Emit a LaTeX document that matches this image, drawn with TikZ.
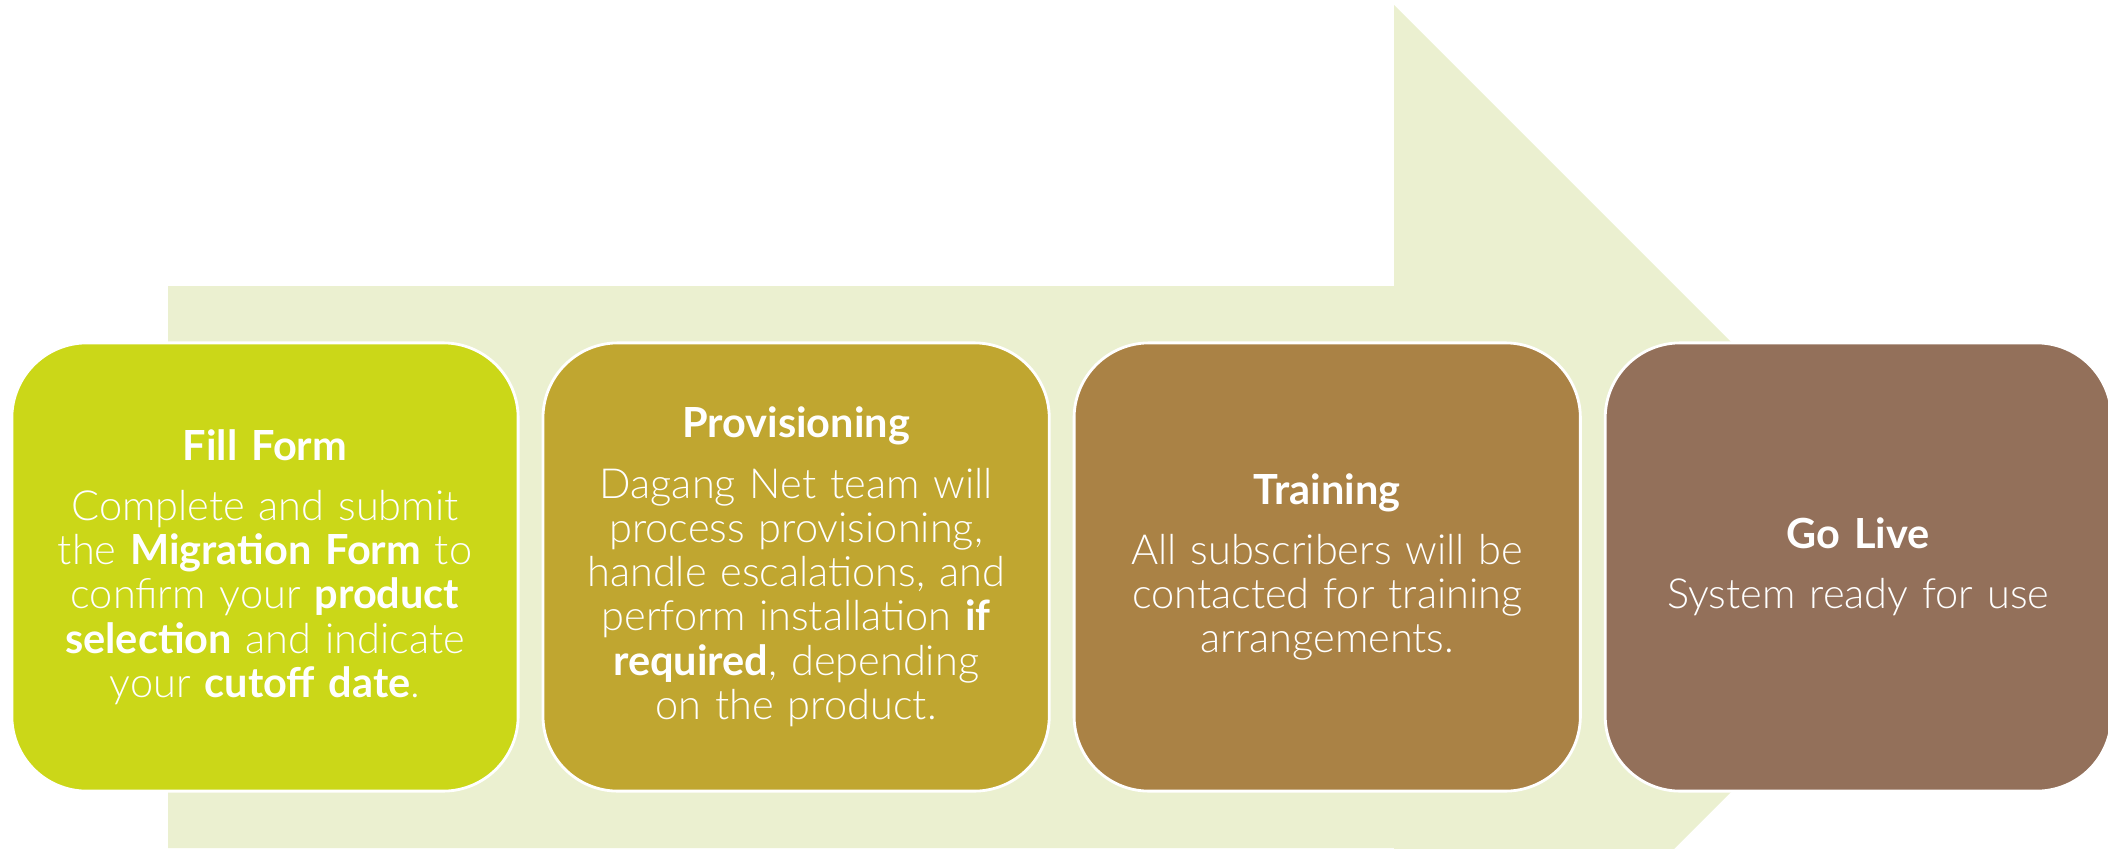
\documentclass[tikz,border=0pt]{standalone}
\usepackage{fontspec}
\setmainfont{Lato}[UprightFont=* Light, BoldFont=* Bold]
\usepackage{tikz}
\usetikzlibrary{positioning}

\definecolor{arrowbg}{RGB}{235,240,208}
\definecolor{formcol}{RGB}{203,215,24}
\definecolor{provcol}{RGB}{192,166,48}
\definecolor{traincol}{RGB}{170,130,69}
\definecolor{livecol}{RGB}{147,112,90}

\begin{document}
\begin{tikzpicture}[
        x=0.01cm, y=-0.01cm,
        node distance=0.22cm,
        every node/.style={font=\fontsize{11.8}{12.6}\selectfont},
        stepbox/.style={rectangle, rounded corners=0.75cm, draw=white, line width=0.8pt, text=white, minimum width=5.06cm, minimum height=4.48cm, text width=4.8cm, align=center, inner sep=0pt}
    ]
        \useasboundingbox (0,0) rectangle (2108,848);
        \clip (0,0) rectangle (2108,848);
        % Background arrow
        \fill[arrowbg] (168,286) -- (1394,286) -- (1394,5) -- (1956,567) -- (1394,1129) -- (1394,848) -- (168,848) -- cycle;
        % Steps
        \node[stepbox, fill=formcol] (form) at (265,567) {\textbf{Fill Form}\\[4.5pt] Complete and submit\\ the \textbf{Migration Form} to\\ confirm your \textbf{product}\\ \textbf{selection} and indicate\\ your \textbf{cutoff date}.};
        \node[stepbox, fill=provcol, right=of form] (prov) {\textbf{Provisioning}\\[4.5pt] Dagang Net team will\\ process provisioning,\\ handle escalations, and\\ perform installation \textbf{if}\\ \textbf{required}, depending\\ on the product.};
        \node[stepbox, fill=traincol, right=of prov] (train) {\textbf{Training}\\[4.5pt] All subscribers will be\\ contacted for training\\ arrangements.};
        \node[stepbox, fill=livecol, right=of train] (live) {\textbf{Go Live}\\[4.5pt] System ready for use};
    \end{tikzpicture}
\end{document}
